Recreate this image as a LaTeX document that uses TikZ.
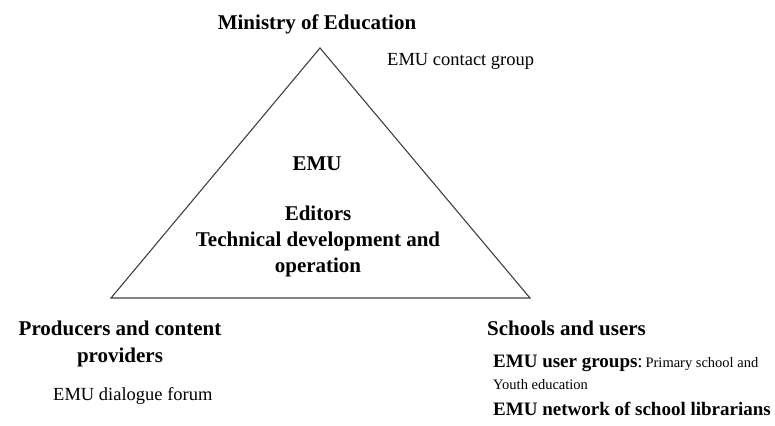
\documentclass[tikz,border=0pt]{standalone}
\usepackage{fontspec}
\setmainfont{Liberation Serif}
\begin{document}
\begin{tikzpicture}[x=1pt,y=-1pt,
  big/.style={font=\fontsize{21}{25}\selectfont\bfseries, inner sep=0pt},
  mid/.style={font=\fontsize{19}{23}\selectfont\bfseries, inner sep=0pt},
  plain/.style={font=\fontsize{18.5}{22}\selectfont, inner sep=0pt},
  small/.style={font=\fontsize{14.5}{17}\selectfont, inner sep=0pt},
  edge/.style={draw=black!75, line width=1.1pt}]
\useasboundingbox (0,0) rectangle (775,425);
% triangle
\coordinate (top) at (320,48);
\coordinate (bl) at (111,298);
\coordinate (br) at (530,298);
\draw[edge, line join=miter] (top) -- (br) -- (bl) -- cycle;
% labels
\node[big, anchor=base] (ministry) at (317,30) {Ministry of Education};
\node[plain, anchor=base west] (contact) at (387,66) {EMU contact group};
\node[big, anchor=base] (emu) at (317,170) {EMU};
\node[big, anchor=base] (editors) at (318,220) {Editors};
\node[big, anchor=base] (tech) at (318,246) {Technical development and};
\node[big, anchor=base] (oper) at (318,272) {operation};
\node[big, anchor=base] (prod) at (120,335) {Producers and content};
\node[big, anchor=base] (prov) at (120,362) {providers};
\node[plain, anchor=base west] (forum) at (53,400) {EMU dialogue forum};
\node[big, anchor=base west] (schools) at (487,335) {Schools and users};
\node[mid, anchor=base west] (ugroups) at (493,367) {EMU user groups\textmd{:}};
\node[small, anchor=base west] (primary) at (ugroups.base east) {\,Primary school and};
\node[small, anchor=base west] (youth) at (493,389) {Youth education};
\node[mid, anchor=base west] (network) at (493,415) {EMU network of school librarians};
\end{tikzpicture}
\end{document}
